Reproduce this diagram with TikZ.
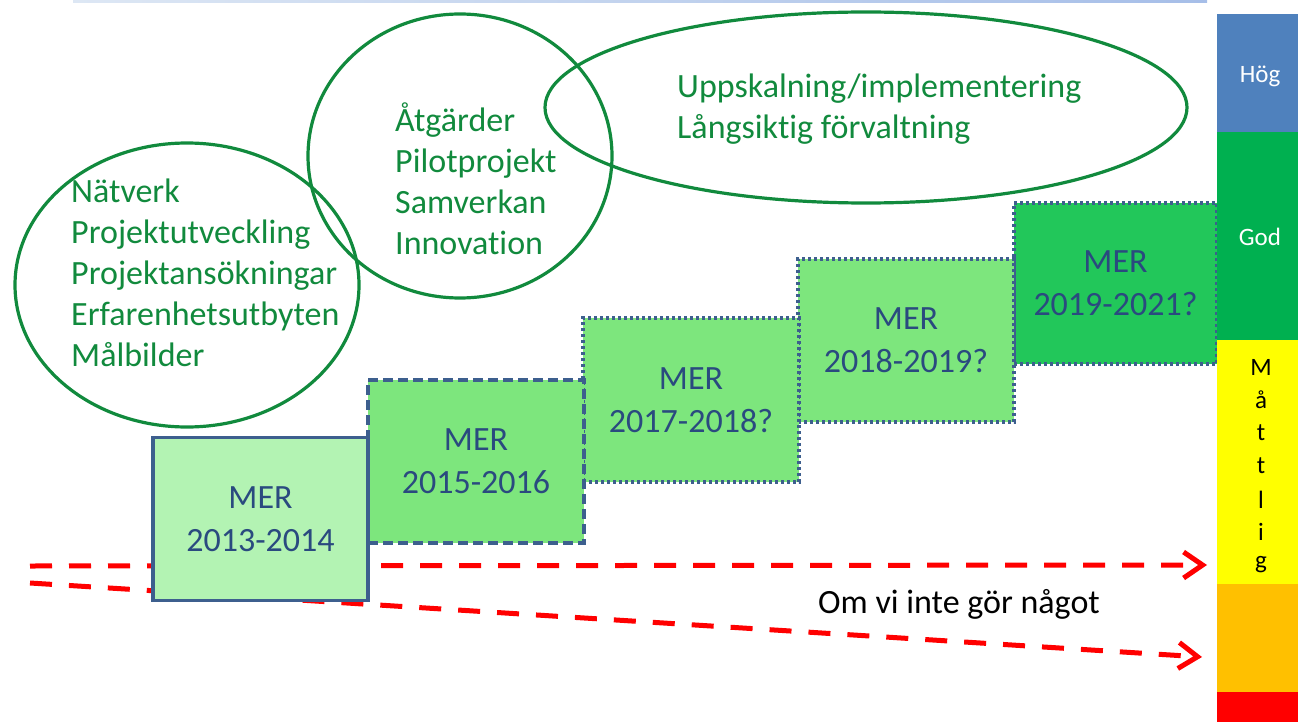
\documentclass[tikz,border=0pt]{standalone}
\usepackage{fontspec}
\setmainfont{Carlito}[Ligatures=NoCommon]
\usetikzlibrary{arrows.meta,shapes.geometric}
\definecolor{egreen}{HTML}{118A3D}
\definecolor{tgreen}{HTML}{118A3D}
\definecolor{boxtext}{HTML}{2A4A7F}
\definecolor{boxline}{HTML}{3D5F8E}
\definecolor{fillA}{HTML}{B3F3B3}
\definecolor{fillB}{HTML}{7DE67D}
\definecolor{fillC}{HTML}{22C75A}
\definecolor{barblue}{HTML}{4F81BD}
\definecolor{bargreen}{HTML}{00B050}
\definecolor{baryellow}{HTML}{FFFF00}
\definecolor{barorange}{HTML}{FFC000}
\definecolor{barred}{HTML}{FF0000}
\definecolor{lineL}{HTML}{DDE7F4}
\definecolor{lineR}{HTML}{A6BEE8}
\tikzset{
  oval/.style={ellipse, draw=egreen, line width=3.2pt, inner sep=0pt},
  ovaltext/.style={anchor=west, align=left, text=tgreen, inner sep=0pt,
    font=\fontsize{34}{41}\selectfont},
  merbox/.style={draw=boxline, line width=3.2pt, align=center, text=boxtext,
    inner sep=0pt, font=\fontsize{34}{43}\selectfont},
  dashedbox/.style={merbox, dash pattern=on 10pt off 5pt},
  dottedbox/.style={merbox, dash pattern=on 3pt off 3pt},
  barseg/.style={draw=none, inner sep=0pt, minimum width=81pt, text=white,
    font=\fontsize{25}{29}\selectfont},
  vletter/.style={inner sep=0pt, text=black, font=\fontsize{25}{29}\selectfont},
  redarrow/.style={draw=barred, line width=5pt, dash pattern=on 22pt off 17pt,
    -{Straight Barb[length=19pt,width=26pt]}},
}
\begin{document}
\begin{tikzpicture}[x=1pt,y=-1pt]
\useasboundingbox (0,0) rectangle (1298,722);
% top line
\shade[left color=lineL, right color=lineR] (73,0) rectangle (1207,3);

% ellipses
\node[oval, minimum width=344pt, minimum height=284pt] (e1) at (187,285) {};
\node[oval, minimum width=304pt, minimum height=284pt] (e2) at (460,156) {};
\node[oval, minimum width=642pt, minimum height=191pt] (e3) at (866,107.5) {};

\node[ovaltext] (t1) at (71,273) {Nätverk\\Projektutveckling\\Projektansökningar\\Erfarenhetsutbyten\\Målbilder};
\node[ovaltext] (t2) at (395,178.5) {Åtgärder\\Pilotprojekt\\Samverkan\\Innovation};
\node[ovaltext] (t3) at (677,109) {Uppskalning/implementering\\Långsiktig förvaltning};

% red arrows
\coordinate (a1s) at (30,566);
\coordinate (a1e) at (1207,565);
\coordinate (a2s) at (30,583);
\coordinate (a2e) at (1202,657);
\draw[redarrow] (a1s) -- (a1e);
\draw[redarrow] (a2s) -- (a2e);

% MER boxes
\node[dottedbox, fill=fillC, minimum width=203pt, minimum height=161pt] (m5) at (1115.5,283.5) {MER\\2019-2021?};
\node[dottedbox, fill=fillB, minimum width=216pt, minimum height=163pt] (m4) at (906,340.5) {MER\\2018-2019?};
\node[dottedbox, fill=fillB, minimum width=216pt, minimum height=164pt] (m3) at (691,400) {MER\\2017-2018?};
\node[dashedbox, fill=fillB, minimum width=216pt, minimum height=163pt] (m2) at (476,461.5) {MER\\2015-2016};
\node[merbox, fill=fillA, minimum width=215pt, minimum height=163pt] (m1) at (260.5,519) {MER\\2013-2014};

\node[inner sep=0pt, text=black, font=\fontsize{34}{41}\selectfont] (om) at (959,604) {Om vi inte gör något};

% right bar
\node[barseg, fill=barblue, minimum height=118pt] (hog) at (1257.5,73) {};
\node[barseg, fill=bargreen, minimum height=208pt] (god) at (1257.5,236) {};
\node[barseg, fill=baryellow, minimum height=244pt] (mat) at (1257.5,462) {};
\node[barseg, fill=barorange, minimum height=108pt] (low) at (1257.5,638) {};
\node[barseg, fill=barred, minimum height=30pt] (bad) at (1257.5,707) {};
\node[barseg, minimum height=0pt] (hogt) at (1260,76) {Hög};
\node[barseg, minimum height=0pt] (godt) at (1260,237) {God};

\node[vletter] (l1) at (1261,367) {M};
\node[vletter] (l2) at (1261,400) {å};
\node[vletter] (l3) at (1261,433) {t};
\node[vletter] (l4) at (1261,466) {t};
\node[vletter] (l5) at (1261,500) {l};
\node[vletter] (l6) at (1261,532) {i};
\node[vletter] (l7) at (1261,565) {g};
\end{tikzpicture}
\end{document}
